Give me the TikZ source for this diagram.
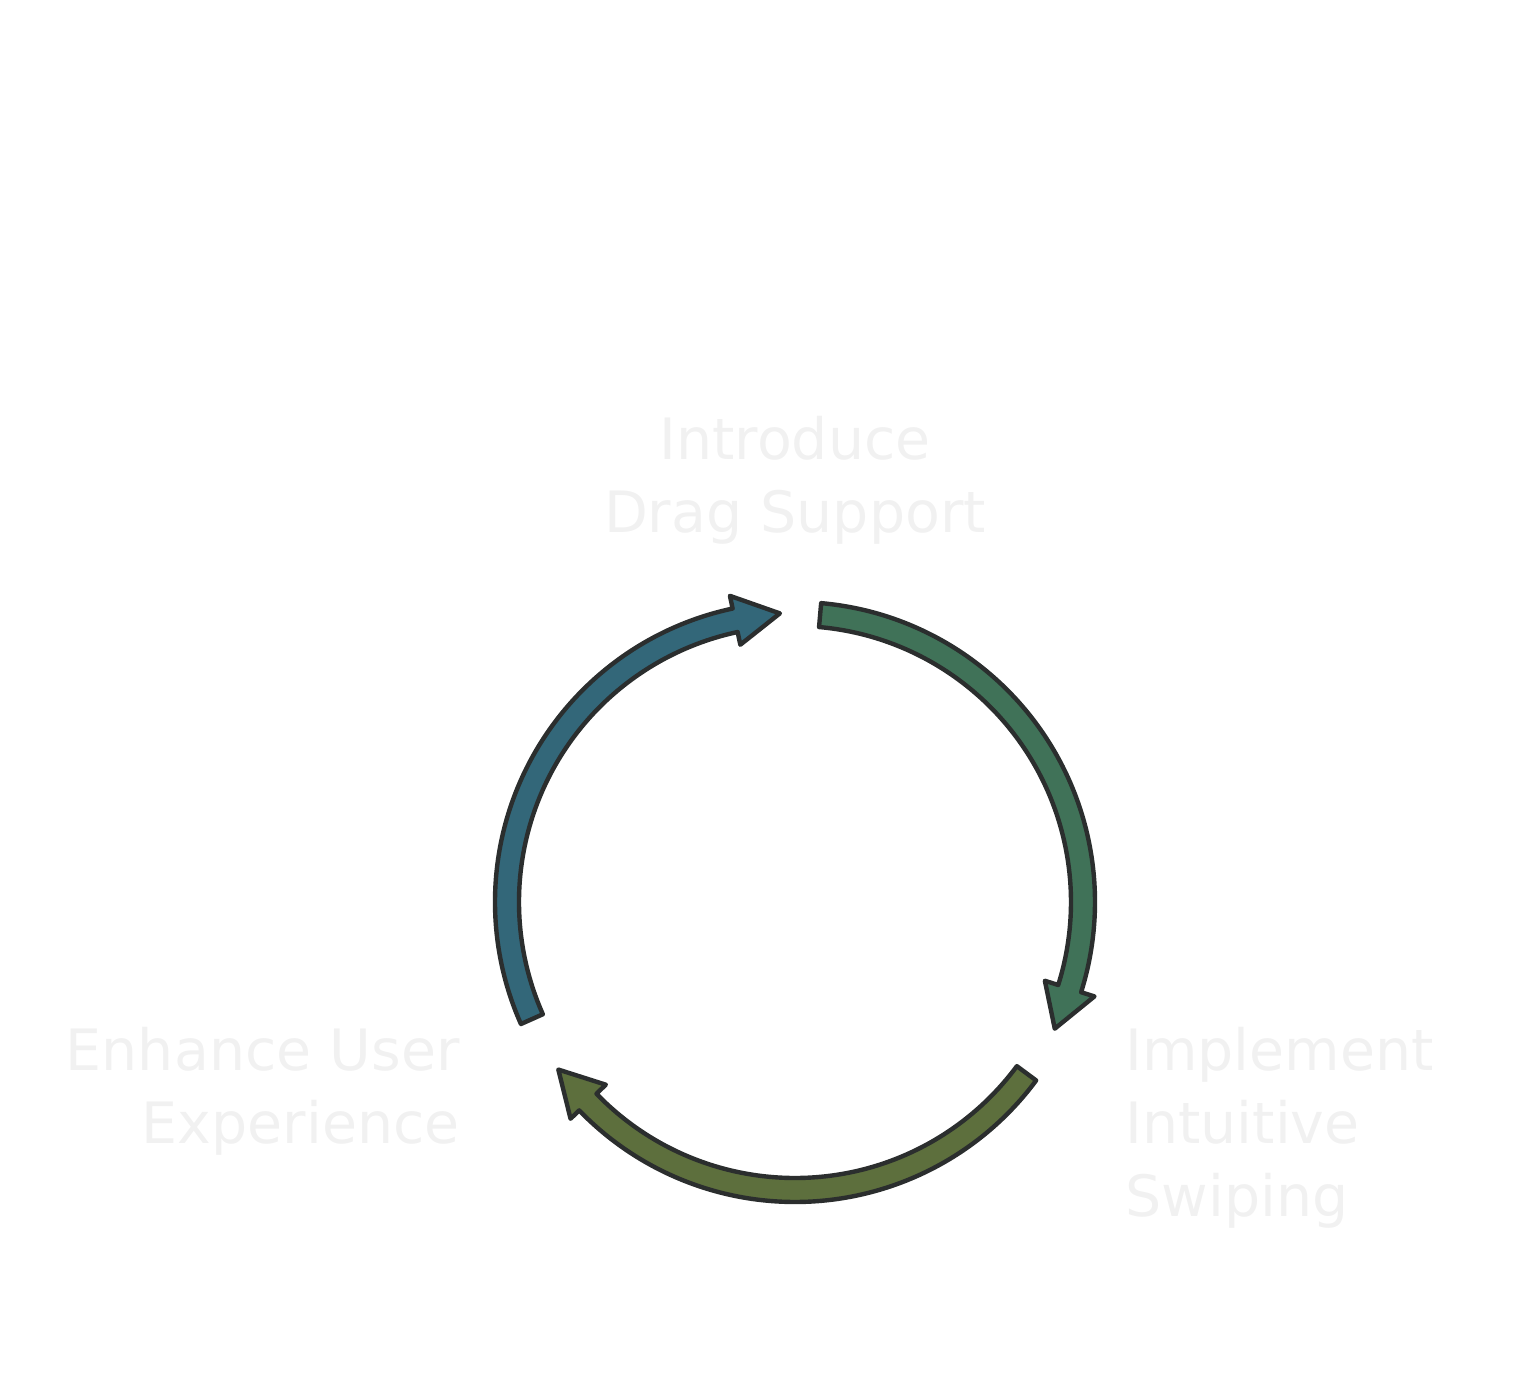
\documentclass[tikz,border=0pt]{standalone}
\usepackage{fontspec}
\setmainfont{DejaVu Sans}
\definecolor{txtc}{RGB}{241,241,241}
\definecolor{edgec}{RGB}{43,46,46}
\definecolor{bluec}{RGB}{51,103,121}
\definecolor{greenc}{RGB}{64,114,88}
\definecolor{olivec}{RGB}{93,111,61}
\begin{document}
\begin{tikzpicture}[x=0.5pt,y=0.5pt,
  cyc/.style={draw=edgec,line width=2.2pt,line join=round},
  lbl/.style={text=txtc,font=\fontsize{28.5}{36.5}\selectfont,inner sep=0pt}]
\useasboundingbox (-795,-472) rectangle (723,902);
% blue arrow
\path[cyc,fill=bluec] (204:300) arc[start angle=204,end angle=102,radius=300]
  -- (102:313) -- (93:289) -- (102:263) -- (102:276)
  arc[start angle=102,end angle=204,radius=276] -- cycle;
% green arrow
\path[cyc,fill=greenc] (85:300) arc[start angle=85,end angle=-17.5,radius=300]
  -- (-17.5:314) -- (-26:289) -- (-17.5:262) -- (-17.5:276)
  arc[start angle=-17.5,end angle=85,radius=276] -- cycle;
% olive arrow
\path[cyc,fill=olivec] (-36.5:300) arc[start angle=-36.5,end angle=-136,radius=300]
  -- (-136:312) -- (-144.7:290) -- (-136:263) -- (-136:276)
  arc[start angle=-136,end angle=-36.5,radius=276] -- cycle;
\node[lbl,anchor=base,align=center] (intro) at (0,369) {Introduce\\Drag Support};
\node[lbl,anchor=base east,align=right] (enh) at (-335,-241) {Enhance User\\Experience};
\node[lbl,anchor=base west,align=left] (impl) at (330,-314) {Implement\\Intuitive\\Swiping};
\end{tikzpicture}
\end{document}
